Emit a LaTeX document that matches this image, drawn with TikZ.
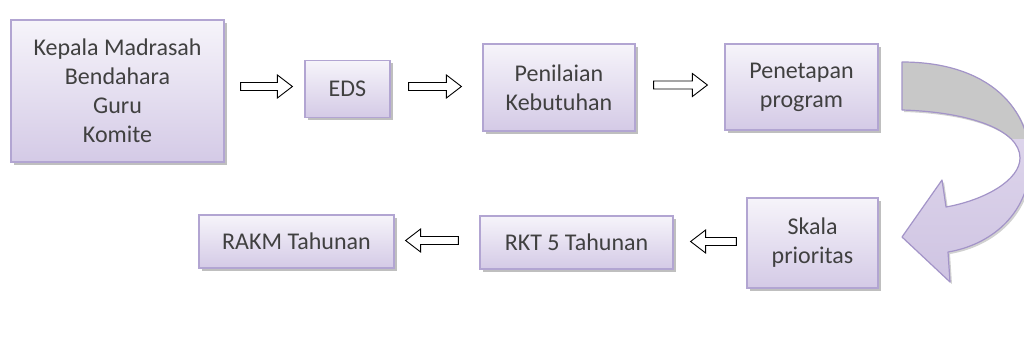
\documentclass[tikz,border=0pt]{standalone}
\usepackage{fontspec}
\setmainfont{Carlito}
\usetikzlibrary{calc,shadows}
\definecolor{txt}{HTML}{404040}
\definecolor{boxtop}{HTML}{F6F4FA}
\definecolor{boxbot}{HTML}{D4CAE6}
\definecolor{boxline}{HTML}{B2A5D2}
\definecolor{arrgray}{HTML}{C8C8C8}
\definecolor{arrlav}{HTML}{E4DDF0}
\definecolor{arrlav2}{HTML}{CFC4E2}
\definecolor{arrline}{HTML}{A394C8}
\tikzset{
  stepbox/.style={rectangle, draw=boxline, line width=1.2pt, top color=boxtop, bottom color=boxbot,
    text=txt, align=center, font=\fontsize{24}{29}\selectfont, inner sep=0pt,
    drop shadow={shadow xshift=2.5pt, shadow yshift=-2.5pt, fill=black, opacity=0.25}},
  barrowstyle/.style={draw=black, line width=0.9pt, fill=white, line join=miter},
  bigarrow/.style={draw=arrline, line width=1.2pt, line join=round},
}
\newcommand{\barrow}[3]{%
  \draw[barrowstyle] let \p1=(#1), \p2=(#2) in
   (\x1,\y1+4pt) -- (\x2-#3,\y1+4pt) -- (\x2-#3,\y1+11.5pt) -- (\x2,\y1) --
   (\x2-#3,\y1-11.5pt) -- (\x2-#3,\y1-4pt) -- (\x1,\y1-4pt) -- cycle;}
\newcommand{\curvedpath}{(902,62) .. controls (990,62) and (1032,110) .. (1030,165)
  .. controls (1028,215) and (990,245) .. (948,252) -- (950,282) -- (902,237) -- (942,180) -- (946,207)
  .. controls (985,200) and (1020,180) .. (1020,158) .. controls (1020,130) and (970,112) .. (902,110) -- cycle}
\begin{document}
\begin{tikzpicture}[x=1pt,y=-1pt]
\useasboundingbox (0,0) rectangle (1024,343);
\fill[white] (0,0) rectangle (1024,343);

\node[stepbox, minimum width=213pt, minimum height=142pt] (box1) at (117.5,91)
  {Kepala Madrasah\\Bendahara\\Guru\\Komite};
\node[stepbox, minimum width=85pt, minimum height=57pt] (eds) at (347.5,89) {EDS};
\node[stepbox, minimum width=152pt, minimum height=87pt] (pen) at (559,87.5) {Penilaian\\Kebutuhan};
\node[stepbox, minimum width=153pt, minimum height=86pt] (prog) at (801.5,87) {Penetapan\\program};
\node[stepbox, minimum width=131pt, minimum height=90pt] (skala) at (812.5,243) {Skala\\prioritas};
\node[stepbox, minimum width=193pt, minimum height=53pt] (rkt) at (576.5,242.5) {RKT 5 Tahunan};
\node[stepbox, minimum width=195pt, minimum height=53pt] (rakm) at (296.5,241.5) {RAKM Tahunan};

\coordinate (a1s) at ($(box1.east |- eds.center)+(16,-2.5)$);
\coordinate (a1e) at ($(eds.west)+(-12,-2.5)$);
\coordinate (a2s) at ($(eds.east)+(18,-2.5)$);
\coordinate (a2e) at ($(pen.west |- eds.center)+(-21,-2.5)$);
\coordinate (a3s) at ($(pen.east)+(18,-2.5)$);
\coordinate (a3e) at ($(prog.west |- pen.east)+(-17,-2.5)$);
\coordinate (a4s) at ($(skala.west |- rkt.east)+(-10,-1)$);
\coordinate (a4e) at ($(rkt.east)+(17,-1)$);
\coordinate (a5s) at ($(rkt.west)+(-21,-2)$);
\coordinate (a5e) at ($(rakm.east |- rkt.west)+(11,-2)$);

\barrow{a1s}{a1e}{15pt}
\barrow{a2s}{a2e}{15pt}
\barrow{a3s}{a3e}{15pt}
\barrow{a4s}{a4e}{-15pt}
\barrow{a5s}{a5e}{-15pt}

\begin{scope}
  \clip (0,0) rectangle (1024,343);
  \fill[black, opacity=0.18, xshift=2pt, yshift=-2pt] \curvedpath;
  \shade[top color=arrlav, bottom color=arrlav2] \curvedpath;
  \begin{scope}
    \clip (880,0) rectangle (1024,138);
    \fill[arrgray] \curvedpath;
  \end{scope}
  \draw[bigarrow] \curvedpath;
\end{scope}
\end{tikzpicture}
\end{document}
